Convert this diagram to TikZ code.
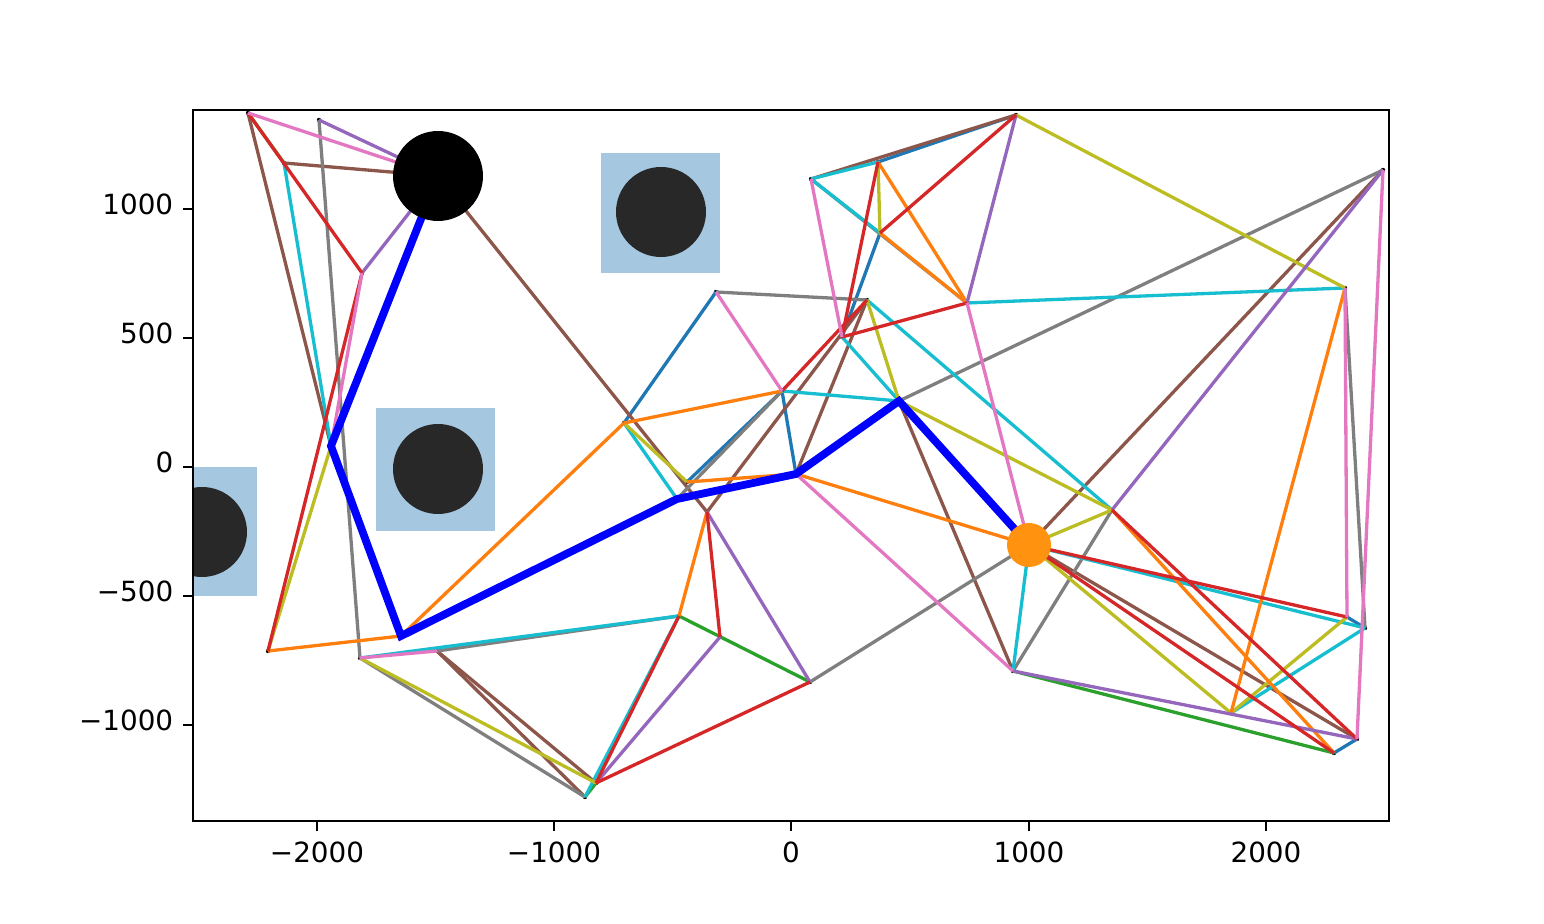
\documentclass[tikz,border=0pt]{standalone}
\usepackage{fontspec}
\setmainfont{DejaVu Sans}
\definecolor{tblue}{HTML}{1F77B4}
\definecolor{torange}{HTML}{FF7F0E}
\definecolor{tgreen}{HTML}{2CA02C}
\definecolor{tred}{HTML}{D62728}
\definecolor{tpurple}{HTML}{9467BD}
\definecolor{tbrown}{HTML}{8C564B}
\definecolor{tpink}{HTML}{E377C2}
\definecolor{tgray}{HTML}{7F7F7F}
\definecolor{tolive}{HTML}{BCBD22}
\definecolor{tcyan}{HTML}{17BECF}
\definecolor{obsfill}{HTML}{A5C8E0}
\definecolor{obsdark}{HTML}{282828}
\definecolor{goalc}{HTML}{FF930F}
\tikzset{
  edge/.style={line width=1.65pt},
  pathline/.style={line width=3.9pt, draw={rgb,255:red,0;green,0;blue,255}, line join=miter},
  obs/.style={fill=obsfill, draw=none},
  obscirc/.style={circle, fill=obsdark, inner sep=0pt, minimum size=45pt},
  tick/.style={line width=1.1pt},
  lbl/.style={font=\fontsize{13.9pt}{16pt}\selectfont, inner sep=0pt}
}
\begin{document}
\begin{tikzpicture}[x=0.5pt,y=-0.5pt]
\useasboundingbox (0,0) rectangle (1544,924);
% graph vertices
\coordinate (st) at (438,176);
\coordinate (A) at (248,113);
\coordinate (B) at (319,120);
\coordinate (C) at (284,163);
\coordinate (D) at (362,273);
\coordinate (E) at (331,446);
\coordinate (F) at (268,651);
\coordinate (G) at (360,658);
\coordinate (H) at (401,636);
\coordinate (I) at (437,651);
\coordinate (J) at (585,797);
\coordinate (K) at (596,783);
\coordinate (L) at (679,616);
\coordinate (M) at (720,637);
\coordinate (N) at (810,682);
\coordinate (O) at (624,423);
\coordinate (P) at (687,482);
\coordinate (Q) at (677,499);
\coordinate (R) at (707,512);
\coordinate (S) at (782,391);
\coordinate (T) at (796,474);
\coordinate (U) at (716,292);
\coordinate (V) at (867,300);
\coordinate (W) at (899,401);
\coordinate (X) at (1029,545);
\coordinate (Y) at (811,179);
\coordinate (Z) at (878,162);
\coordinate (AA) at (880,233);
\coordinate (AB) at (1016,115);
\coordinate (AC) at (967,303);
\coordinate (AD) at (842,337);
\coordinate (AE) at (1345,288);
\coordinate (AF) at (1383,170);
\coordinate (AG) at (1112,510);
\coordinate (AH) at (1013,671);
\coordinate (AI) at (1231,713);
\coordinate (AJ) at (1347,617);
\coordinate (AK) at (1365,628);
\coordinate (AL) at (1357,739);
\coordinate (AM) at (1334,753);

\begin{scope}
\clip (193,110) rectangle (1389,821);
% obstacles
\fill[obs] (601,153) rectangle (720,273);
\fill[obs] (376,408) rectangle (495,531);
\fill[obs] (138,467) rectangle (257,596);
\node[obscirc] (ob1) at (661,212) {};
\node[obscirc] (ob2) at (438,469) {};
\node[obscirc] (ob3) at (202,532) {};
% vertex dots
\foreach \n in {A,B,C,D,E,F,G,H,I,J,K,L,M,N,O,P,Q,R,S,T,U,V,W,Y,Z,AA,AB,AC,AD,AE,AF,AG,AH,AI,AJ,AK,AL,AM}
  \fill[black] (\n) circle[radius=1.1pt];
% edges
\foreach \a/\b in {A/C, J/K, L/N, AH/AM}
  \draw[edge, tgreen] (\a) -- (\b);
\foreach \a/\b in {O/U, P/S, S/T, Z/AB, AA/AD, AJ/AK, AM/AL}
  \draw[edge, tblue] (\a) -- (\b);
\foreach \a/\b in {A/E, C/st, I/K, I/J, st/R, R/V, T/V, W/AH, X/AF, X/AL, Y/AB}
  \draw[edge, tbrown] (\a) -- (\b);
\foreach \a/\b in {B/G, I/L, G/J, Q/S, U/V, Y/AC, W/AF, X/N, AG/AH, AE/AK}
  \draw[edge, tgray] (\a) -- (\b);
\foreach \a/\b in {C/E, G/L, J/L, O/Q, S/W, V/AG, X/AH, X/AK, AK/AI, Y/Z, Y/AA, AD/W, AC/AE}
  \draw[edge, tcyan] (\a) -- (\b);
\foreach \a/\b in {E/F, G/K, O/P, V/W, W/AG, X/AG, AB/AE, X/AI, AJ/AI, Z/AA}
  \draw[edge, tolive] (\a) -- (\b);
\foreach \a/\b in {F/H, O/S, O/H, L/R, P/T, T/X, AG/AM, AE/AI, Z/AC, AA/AC}
  \draw[edge, torange] (\a) -- (\b);
\foreach \a/\b in {B/st, D/st, K/M, R/N, AB/AC, AG/AF, AH/AL}
  \draw[edge, tpurple] (\a) -- (\b);
\foreach \a/\b in {A/D, D/F, K/L, K/N, M/R, Z/AD, AA/AB, AD/AC, S/V, X/AJ, X/AM, AG/AL}
  \draw[edge, tred] (\a) -- (\b);
\foreach \a/\b in {A/st, D/E, G/I, U/S, T/AH, AC/X, AE/AJ, AF/AL, Y/AD}
  \draw[edge, tpink] (\a) -- (\b);
% solution path
\draw[pathline] (st) -- (E) -- (H) -- (Q) -- (T) -- (W) -- (X);
% start and goal
\node[circle, fill=black, inner sep=0pt, minimum size=45pt] (startm) at (st) {};
\node[circle, fill=goalc, inner sep=0pt, minimum size=22pt] (goalm) at (X) {};
\end{scope}

% axes frame
\draw[tick] (193,110) rectangle (1389,821);
% x ticks
\foreach \px/\t in {317/{\textminus2000}, 554/{\textminus1000}, 791/0, 1029/1000, 1266/2000} {
  \draw[tick] (\px,821) -- (\px,830.7);
  \node[lbl, anchor=base] at (\px,863) {\t};
}
% y ticks
\foreach \py/\t in {209/1000, 338/500, 467/0, 596/{\textminus500}, 725/{\textminus1000}} {
  \draw[tick] (193,\py) -- (183.3,\py);
  \node[lbl, anchor=mid east] at (173.6,\py) {\t};
}
\end{tikzpicture}
\end{document}
